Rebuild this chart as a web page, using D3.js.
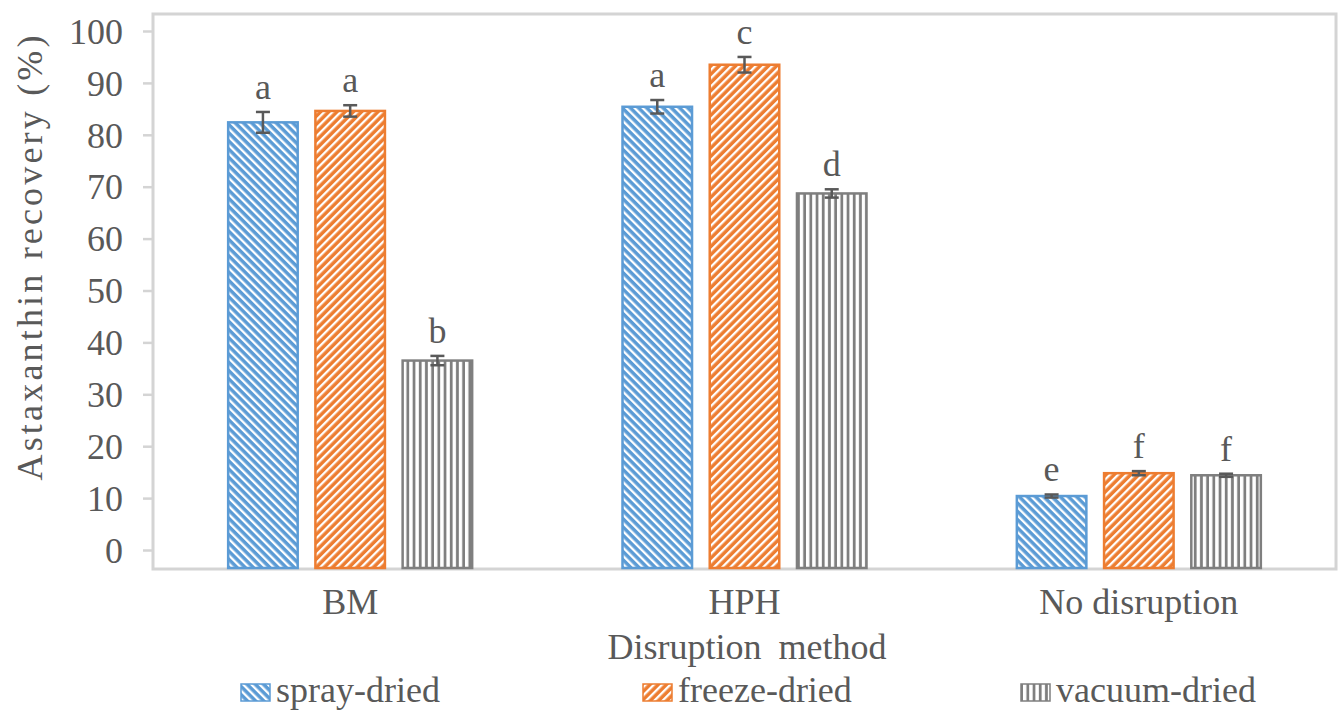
<!DOCTYPE html>
<html>
<head>
<meta charset="utf-8">
<script src="https://cdn.jsdelivr.net/npm/d3@7"></script>
<style>
  body { margin: 0; background: #fff; }
  svg text { font-family: "Liberation Serif", "Times New Roman", serif; fill: #595959; }
</style>
</head>
<body>
<svg id="chart"></svg>
<script>
// ---------------- data ----------------
const methods = ['BM', 'HPH', 'No disruption'];
const dryings = ['spray-dried', 'freeze-dried', 'vacuum-dried'];

// recovery (%) per method, order: spray, freeze, vacuum
const sprayMean  = [82.4, 85.4, 10.4];
const freezeMean = [84.6, 93.5, 14.8];
const vacuumMean = [36.5, 68.7, 14.4];

const sprayErr  = [2.0, 1.3, 0.3];
const freezeErr = [1.1, 1.5, 0.4];
const vacuumErr = [0.9, 0.8, 0.3];

const sprayLetters  = ['a', 'a', 'e'];
const freezeLetters = ['a', 'c', 'f'];
const vacuumLetters = ['b', 'd', 'f'];

const yTicks = [0, 10, 20, 30, 40, 50, 60, 70, 80, 90, 100];
const yMin = -3.66; // axis starts a bit below 0 in the original

// ---------------- layout ----------------
const width = 1340;
const height = 716;
const plotLeft = 153, plotRight = 1336, plotTop = 14, plotBottom = 569;

const colors = {'spray-dried': '#5B9BD5', 'freeze-dried': '#ED7D31', 'vacuum-dried': '#7F7F7F'};
const patterns = {'spray-dried': 'pat-spray', 'freeze-dried': 'pat-freeze', 'vacuum-dried': 'pat-vacuum'};

// build rows for the bars
const means = [sprayMean, freezeMean, vacuumMean];
const errs = [sprayErr, freezeErr, vacuumErr];
const letters = [sprayLetters, freezeLetters, vacuumLetters];
let rows = [];
methods.forEach(function(m, i) {
  dryings.forEach(function(d, j) {
    rows.push({method: m, drying: d, value: means[j][i], err: errs[j][i], letter: letters[j][i]});
  });
});

const svg = d3.select('#chart')
  .attr('width', width)
  .attr('height', height);

// hatch patterns
const defs = svg.append('defs');
function hatch(id, angle, size, lineW, bg, lineColor) {
  const p = defs.append('pattern')
    .attr('id', id)
    .attr('patternUnits', 'userSpaceOnUse')
    .attr('width', size)
    .attr('height', size)
    .attr('patternTransform', 'rotate(' + angle + ')');
  p.append('rect').attr('width', size).attr('height', size).attr('fill', bg);
  p.append('rect').attr('x', 0).attr('y', 0).attr('width', lineW).attr('height', size).attr('fill', lineColor);
}
hatch('pat-spray', -45, 5.8, 2.3, '#5B9BD5', '#ffffff');
hatch('pat-freeze', 45, 5.8, 2.3, '#ED7D31', '#ffffff');
hatch('pat-vacuum', 0, 6.2, 3.4, '#7F7F7F', '#ffffff');

// scales
const x0 = d3.scaleBand()
  .domain(methods)
  .range([plotLeft, plotRight])
  .padding(0);

const x1 = d3.scaleBand()
  .domain(dryings)
  .range([x0.bandwidth() / 2 - 123, x0.bandwidth() / 2 + 123])
  .paddingInner(0.18);

const y = d3.scaleLinear()
  .domain([yMin, 100])
  .range([plotBottom, 31]);

// plot frame
svg.append('rect')
  .attr('x', plotLeft)
  .attr('y', plotTop)
  .attr('width', plotRight - plotLeft)
  .attr('height', plotBottom - plotTop)
  .attr('fill', 'none')
  .attr('stroke', '#D4D4D4')
  .attr('stroke-width', 3);

// y axis
const yAxis = d3.axisLeft(y)
  .tickValues(yTicks)
  .tickSize(10)
  .tickPadding(20)
  .tickFormat(d3.format('d'));

const gy = svg.append('g')
  .attr('transform', 'translate(' + plotLeft + ',0)')
  .call(yAxis);
gy.select('.domain').remove();
gy.selectAll('.tick line').attr('stroke', '#D4D4D4').attr('stroke-width', 2.5);
gy.selectAll('.tick text')
  .style('font-size', '36px')
  .attr('font-family', null)
  .attr('fill', '#595959')
  .attr('dy', '0.34em');

// x category labels
svg.append('g')
  .selectAll('text')
  .data(methods)
  .enter()
  .append('text')
  .attr('x', d => x0(d) + x0.bandwidth() / 2)
  .attr('y', 614)
  .attr('text-anchor', 'middle')
  .style('font-size', '36px')
  .text(d => d);

// bars
const bars = svg.append('g');
bars.selectAll('rect')
  .data(rows)
  .enter()
  .append('rect')
  .attr('x', d => x0(d.method) + x1(d.drying) + 1)
  .attr('y', d => y(d.value))
  .attr('width', x1.bandwidth() - 2)
  .attr('height', d => y(yMin) - y(d.value) - 1)
  .attr('fill', d => 'url(#' + patterns[d.drying] + ')')
  .attr('stroke', d => colors[d.drying])
  .attr('stroke-width', 2.5);

// error bars
const eb = svg.append('g')
  .attr('stroke', '#595959')
  .attr('stroke-width', 2.5);
rows.forEach(function(d) {
  const cx = x0(d.method) + x1(d.drying) + x1.bandwidth() / 2;
  eb.append('line').attr('x1', cx).attr('x2', cx).attr('y1', y(d.value + d.err)).attr('y2', y(d.value - d.err));
  eb.append('line').attr('x1', cx - 7).attr('x2', cx + 7).attr('y1', y(d.value + d.err)).attr('y2', y(d.value + d.err));
  eb.append('line').attr('x1', cx - 7).attr('x2', cx + 7).attr('y1', y(d.value - d.err)).attr('y2', y(d.value - d.err));
});

// significance letters
svg.append('g')
  .selectAll('text')
  .data(rows)
  .enter()
  .append('text')
  .attr('x', d => x0(d.method) + x1(d.drying) + x1.bandwidth() / 2)
  .attr('y', d => y(d.value + d.err) - 13)
  .attr('text-anchor', 'middle')
  .style('font-size', '36px')
  .text(d => d.letter);

// axis titles
svg.append('text')
  .attr('transform', 'translate(42,258) rotate(-90)')
  .attr('text-anchor', 'middle')
  .attr('textLength', 445)
  .attr('lengthAdjust', 'spacing')
  .style('font-size', '36px')
  .text('Astaxanthin recovery (%)');

svg.append('text')
  .attr('x', 747)
  .attr('y', 659)
  .attr('text-anchor', 'middle')
  .style('font-size', '36px')
  .style('word-spacing', '8px')
  .text('Disruption method');

// legend
const legendX = [241, 643, 1021];
const leg = svg.append('g');
dryings.forEach(function(d, i) {
  leg.append('rect')
    .attr('x', legendX[i])
    .attr('y', 684)
    .attr('width', 29)
    .attr('height', 17)
    .attr('fill', 'url(#' + patterns[d] + ')')
    .attr('stroke', colors[d])
    .attr('stroke-width', 1.5);
  leg.append('text')
    .attr('x', legendX[i] + 35)
    .attr('y', 702)
    .style('font-size', '36px')
    .text(d);
});
</script>
</body>
</html>
